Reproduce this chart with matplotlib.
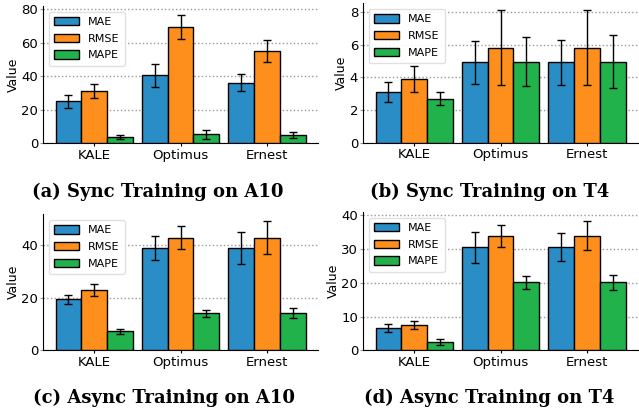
import numpy as np
import matplotlib
matplotlib.use("Agg")
import matplotlib.pyplot as plt

models = ["KALE", "Optimus", "Ernest"]
metrics = ["MAE", "RMSE", "MAPE"]
colors = ["#2b8dc6", "#fe8f1d", "#22b24b"]

# (a) Sync Training on A10
sync_a10 = [[25.1, 40.5, 36.1], [31.4, 69.5, 55.1], [3.7, 5.3, 4.8]]
sync_a10_err = [[3.9, 6.6, 5.0], [4.2, 7.3, 6.3], [1.0, 2.5, 1.9]]
# (b) Sync Training on T4
sync_t4 = [[3.1, 4.92, 4.92], [3.93, 5.83, 5.83], [2.69, 4.98, 4.98]]
sync_t4_err = [[0.6, 1.3, 1.4], [0.8, 2.3, 2.3], [0.4, 1.5, 1.6]]
# (c) Async Training on A10
async_a10 = [[19.4, 38.9, 38.9], [22.9, 42.8, 42.8], [7.2, 14.05, 14.05]]
async_a10_err = [[1.75, 4.6, 6.1], [2.15, 4.3, 6.3], [1.0, 1.45, 1.95]]
# (d) Async Training on T4
async_t4 = [[6.5, 30.5, 30.5], [7.5, 34.0, 34.0], [2.4, 20.1, 20.1]]
async_t4_err = [[1.15, 4.65, 4.15], [1.2, 3.25, 4.35], [0.85, 1.85, 2.1]]

panels = [
    (sync_a10, sync_a10_err, "(a) Sync Training on A10", [0, 20, 40, 60, 80], 82),
    (sync_t4, sync_t4_err, "(b) Sync Training on T4", [0, 2, 4, 6, 8], 8.55),
    (async_a10, async_a10_err, "(c) Async Training on A10", [0, 20, 40], 51.7),
    (async_t4, async_t4_err, "(d) Async Training on T4", [0, 10, 20, 30, 40], 41),
]

W, H = 639, 412
# axes boxes in pixels: left, top, right, bottom
boxes = [(43, 6, 318, 143.3), (363, 3.3, 638, 142.7),
         (43, 214.3, 318, 350.3), (363, 212, 638, 350.3)]
caption_pos = [(158, 197), (490, 197), (164, 403), (489, 403)]

fig = plt.figure(figsize=(W / 100, H / 100), dpi=100)
x = np.arange(len(models))
width = 0.3

for (vals, errs, title, ticks, ytop), (l, t, r, b), (cx, cy) in zip(panels, boxes, caption_pos):
    ax = fig.add_axes([l / W, 1 - b / H, (r - l) / W, (b - t) / H])
    for i, m in enumerate(metrics):
        ax.bar(x + (i - 1) * width, vals[i], width, yerr=errs[i], color=colors[i],
               edgecolor="black", linewidth=1.0, label=m, capsize=3,
               error_kw=dict(elinewidth=1.0, capthick=1.0, ecolor="black"), zorder=3)
    ax.set_xticks(x)
    ax.set_xticklabels(models, fontsize=9.5)
    ax.set_yticks(ticks)
    ax.set_ylim(0, ytop)
    ax.tick_params(axis="y", labelsize=9.5, length=2.5, pad=1, color="#999999")
    ax.tick_params(axis="x", length=2, pad=2)
    ax.set_ylabel("Value", fontsize=9, labelpad=1)
    ax.yaxis.grid(True, linestyle=":", color="#999999", linewidth=1.0, zorder=0)
    ax.set_axisbelow(True)
    ax.spines["top"].set_visible(False)
    ax.spines["right"].set_visible(False)
    ax.legend(loc="upper left", fontsize=8, framealpha=0.9, edgecolor="#dddddd",
              handlelength=2.2, handleheight=0.75, borderpad=0.5, labelspacing=0.6,
              handletextpad=0.8, borderaxespad=0.5)
    fig.text(cx / W, 1 - cy / H, title, ha="center", va="baseline",
             fontsize=13, fontweight="bold", family="DejaVu Serif")

fig.savefig("out.png", dpi=100)
